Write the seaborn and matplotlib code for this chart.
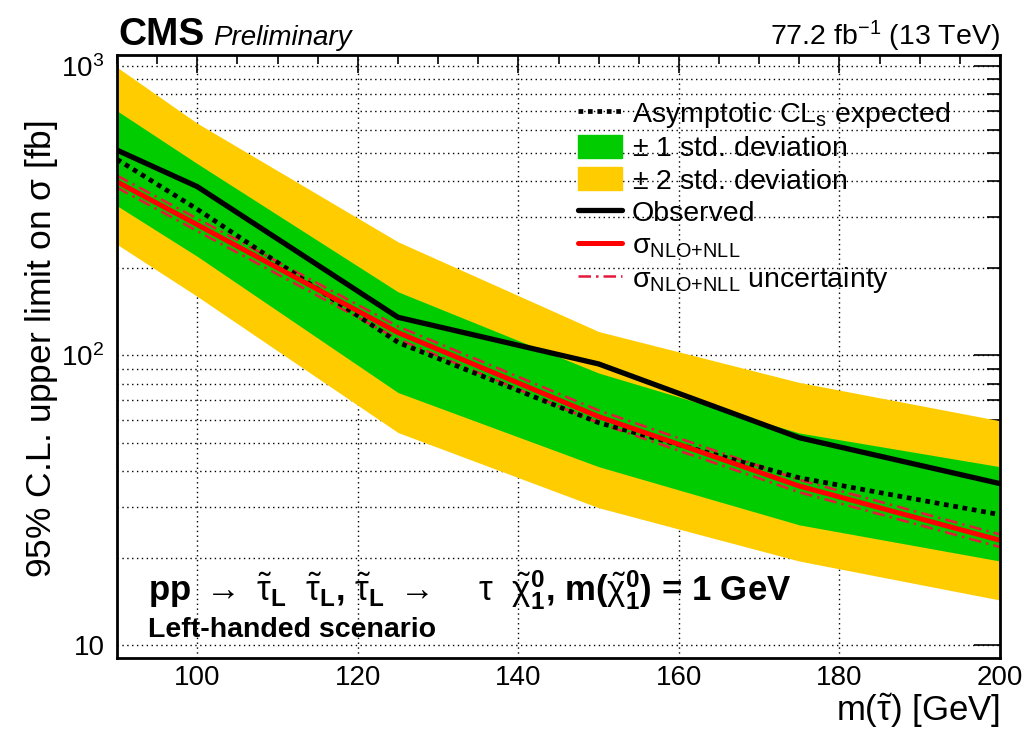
import numpy as np
import pandas as pd
import matplotlib
matplotlib.use("Agg")
import matplotlib.pyplot as plt
import seaborn as sns
from matplotlib.lines import Line2D
from matplotlib.patches import Patch
from matplotlib.ticker import FixedLocator, FixedFormatter, NullFormatter, MultipleLocator

# -----------------------------
# Data
# -----------------------------
mass = [90, 100, 125, 150, 175, 200]
observed = [512, 383, 135.5, 93.5, 52, 36.1]
expected = [476, 320, 111, 58.6, 37.8, 28.2]
exp_1s_up = [700, 460, 166, 87, 54, 41.3]
exp_1s_down = [329, 220, 74.5, 41.3, 26, 19.5]
exp_2s_up = [990, 634, 247, 121, 80.7, 59.5]
exp_2s_down = [242, 160, 54.2, 29.8, 19.5, 14.3]
xsec = [398, 283, 120, 61.5, 35.4, 23.0]
xsec_up = [418, 297, 126, 64.6, 37.2, 24.1]
xsec_down = [380, 269, 114, 58.5, 33.7, 21.8]

df = pd.DataFrame({
    "mass": mass, "observed": observed, "expected": expected,
    "s1_up": exp_1s_up, "s1_dn": exp_1s_down,
    "s2_up": exp_2s_up, "s2_dn": exp_2s_down,
    "xsec": xsec, "xsec_up": xsec_up, "xsec_dn": xsec_down,
})

# -----------------------------
# Style
# -----------------------------
sns.set_style("white")
plt.rcParams['font.family'] = ['Liberation Sans', 'DejaVu Sans']
plt.rcParams['mathtext.fontset'] = 'custom'
plt.rcParams['mathtext.rm'] = 'Liberation Sans'
plt.rcParams['mathtext.it'] = 'Liberation Sans:italic'
plt.rcParams['mathtext.bf'] = 'Liberation Sans:bold'
for key in ["text.color", "axes.labelcolor", "xtick.color", "ytick.color"]:
    plt.rcParams[key] = "black"

GREEN = "#00CC00"
YELLOW = "#FFCC00"
RED = "#FF0000"
CRIMSON = "#E8173C"

fig = plt.figure(figsize=(10.25, 7.29), dpi=100)
ax = fig.add_axes([117/1025, 1 - 658/729, (1000 - 117)/1025, (658 - 55)/729])

# bands
ax.fill_between(df["mass"], df["s2_dn"], df["s2_up"], color=YELLOW, lw=0)
ax.fill_between(df["mass"], df["s1_dn"], df["s1_up"], color=GREEN, lw=0)

# lines
sns.lineplot(data=df, x="mass", y="xsec_up", ax=ax, color=CRIMSON, lw=1.8, linestyle=(0, (5, 2, 1, 2)))
sns.lineplot(data=df, x="mass", y="xsec_dn", ax=ax, color=CRIMSON, lw=1.8, linestyle=(0, (5, 2, 1, 2)))
sns.lineplot(data=df, x="mass", y="expected", ax=ax, color="black", lw=3.4, linestyle=(0, (1, 1)))
sns.lineplot(data=df, x="mass", y="xsec", ax=ax, color=RED, lw=3.6)
sns.lineplot(data=df, x="mass", y="observed", ax=ax, color="black", lw=3.8)

ax.set_yscale("log")
ax.set_xlim(90, 200)
ax.set_ylim(9.02, 1091)

# ticks
ax.xaxis.set_major_locator(MultipleLocator(20))
ax.xaxis.set_minor_locator(MultipleLocator(5))
ax.yaxis.set_major_locator(FixedLocator([10, 100, 1000]))
ax.yaxis.set_major_formatter(FixedFormatter(["10", r"$10^2$", r"$10^3$"]))
minor_y = [m * d for d in (10, 100) for m in range(2, 10)]
ax.yaxis.set_minor_locator(FixedLocator(minor_y))
ax.yaxis.set_minor_formatter(NullFormatter())
ax.tick_params(which="both", direction="in", top=True, right=True, colors="black", labelsize=20)
ax.tick_params(axis="y", which="major", length=19, width=1.2, pad=9)
ax.tick_params(axis="y", which="minor", length=9.5, width=1.2)
ax.tick_params(axis="x", which="major", length=13, width=1.2, pad=5)
ax.tick_params(axis="x", which="minor", length=6.5, width=1.2)
for s in ax.spines.values():
    s.set_linewidth(2.0)
    s.set_color("black")

# grid below the bands
ax.set_axisbelow(True)
ax.grid(True, which="both", axis="y", color="black", lw=1.0, linestyle=(0, (1, 2.5)))
ax.grid(True, which="major", axis="x", color="black", lw=1.0, linestyle=(0, (1, 2.5)))
ax.set_xlabel("")
ax.set_ylabel("")

# axis titles
fig.text(1000/1025, 1 - 711/729, r"m($\tilde{\mathrm{\tau}}$) [GeV]", ha="right", va="center", fontsize=25)
fig.text(42/1025, 1 - 120/729, r"95% C.L. upper limit on $\mathrm{\sigma}$ [fb]", ha="center", va="top",
         rotation=90, fontsize=25.5)

# header
fig.text(118/1025, 1 - 45/729, "CMS", fontsize=28, fontweight="bold", ha="left", va="baseline")
fig.text(213/1025, 1 - 45/729, "Preliminary", fontsize=20, fontstyle="italic", ha="left", va="baseline")
fig.text(1000/1025, 1 - 45/729, r"77.2 fb$^{-1}$ (13 TeV)", fontsize=20.5, ha="right", va="baseline")

# process text
fig.text(148/1025, 1 - 600/729,
         r"pp $\rightarrow$ $\tilde{\mathrm{\tau}}_{\mathbf{L}}$  $\tilde{\mathrm{\tau}}_{\mathbf{L}}$, "
         r"$\tilde{\mathrm{\tau}}_{\mathbf{L}}$ $\rightarrow$    $\mathrm{\tau}$  "
         r"$\tilde{\mathrm{\chi}}^{\mathbf{0}}_{\mathbf{1}}$, m($\tilde{\mathrm{\chi}}^{\mathbf{0}}_{\mathbf{1}}$) = 1 GeV",
         fontsize=25, fontweight="bold", ha="left", va="baseline")
fig.text(148/1025, 1 - 637/729, "Left-handed scenario", fontsize=20.5, fontweight="bold",
         ha="left", va="baseline")

# legend
handles = [
    Line2D([], [], color="black", lw=3.4, linestyle=(0, (1, 1))),
    Patch(facecolor=GREEN, edgecolor=GREEN),
    Patch(facecolor=YELLOW, edgecolor=YELLOW),
    Line2D([], [], color="black", lw=3.8),
    Line2D([], [], color=RED, lw=3.6),
    Line2D([], [], color=CRIMSON, lw=1.8, linestyle=(0, (5, 2, 1, 2))),
]
labels = [
    r"Asymptotic CL$_{\mathrm{s}}$ expected",
    r"$\pm$ 1 std. deviation",
    r"$\pm$ 2 std. deviation",
    "Observed",
    r"$\mathrm{\sigma}_{\mathrm{NLO{+}NLL}}$",
    r"$\mathrm{\sigma}_{\mathrm{NLO{+}NLL}}$ uncertainty",
]
leg = fig.legend(handles, labels, loc="upper left", bbox_to_anchor=(578/1025, 1 - 100/729),
                 frameon=False, fontsize=20.5, handlelength=1.55, handleheight=0.85,
                 handletextpad=0.35, labelspacing=0.18, borderpad=0, borderaxespad=0)

fig.savefig("out.png", dpi=100)
